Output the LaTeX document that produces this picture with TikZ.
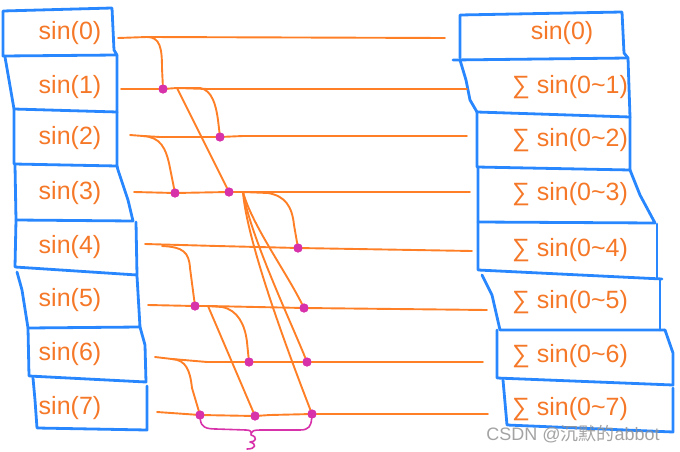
\documentclass[tikz,border=0pt]{standalone}
\usepackage{fontspec}
\setmainfont{Liberation Sans}
\newfontfamily\cjk{Noto Sans CJK SC}
\definecolor{ln}{RGB}{255,127,39}
\definecolor{tx}{RGB}{245,120,40}
\definecolor{bx}{RGB}{40,135,255}
\definecolor{mg}{RGB}{215,50,170}
\begin{document}
\begin{tikzpicture}[x=1pt,y=-1pt,line cap=round,line join=round,
  lbl/.style={text=tx,font=\fontsize{25}{29}\selectfont,inner sep=0pt},
  boxline/.style={draw=bx,line width=2.8pt},
  wire/.style={draw=ln,line width=1.9pt},
  dotm/.style={circle,fill=mg,draw=mg,line width=1pt,inner sep=0pt,minimum size=8pt},
  bracem/.style={draw=mg,line width=1.6pt}]
\useasboundingbox (0,0) rectangle (680,452);
% ---------- left boxes ----------
\draw[boxline] (3,11) -- (112,8) -- (114,50) -- (117,55) -- (3,56) -- cycle;
\draw[boxline] (5,57) -- (9,80) -- (14,109) -- (117,112) -- (117,55);
\draw[boxline] (14,109) -- (14,164) -- (117,166) -- (117,112);
\draw[boxline] (15,165) -- (16,220) -- (133,221) -- (128,200) -- (118,170) -- (117,166);
\draw[boxline] (16,220) -- (15,267) -- (137,275) -- (136,222);
\draw[boxline] (17,272) -- (22,290) -- (28,328) -- (140,327) -- (137,276);
\draw[boxline] (28,328) -- (29,376) -- (146,382) -- (145,345) -- (140,327);
\draw[boxline] (33,378) -- (35,400) -- (37,428) -- (147,430) -- (147,386);
% ---------- right boxes ----------
\draw[boxline] (628,58) -- (453,60);
\draw[boxline] (460,58) -- (460,15) -- (622,12) -- (624,53) -- (628,58);
\draw[boxline] (460,60) -- (466,80) -- (470,100) -- (477,112) -- (630,117) -- (628,58);
\draw[boxline] (477,112) -- (477,167) -- (630,170) -- (630,117);
\draw[boxline] (478,167) -- (478,222) -- (655,223) -- (640,195) -- (630,170);
\draw[boxline] (478,222) -- (478,270) -- (662,279);
\draw[boxline] (657,224) -- (657,278);
\draw[boxline] (482,275) -- (492,295) -- (500,330) -- (665,330);
\draw[boxline] (660,279) -- (660,330);
\draw[boxline] (497,330) -- (497,378) -- (673,385) -- (673,353) -- (665,330);
\draw[boxline] (503,380) -- (507,425) -- (673,432) -- (673,388);
% ---------- texts ----------
\node[lbl] (L0) at (70,33) {sin(0)};
\node[lbl] (L1) at (70,87) {sin(1)};
\node[lbl] (L2) at (70,138) {sin(2)};
\node[lbl] (L3) at (70,193) {sin(3)};
\node[lbl] (L4) at (70,247) {sin(4)};
\node[lbl] (L5) at (70,300) {sin(5)};
\node[lbl] (L6) at (70,354) {sin(6)};
\node[lbl] (L7) at (70,408) {sin(7)};
\node[lbl] (R0) at (562,33) {sin(0)};
\node[lbl] (R1) at (570,87) {∑ sin(0\textasciitilde1)};
\node[lbl] (R2) at (570,140) {∑ sin(0\textasciitilde2)};
\node[lbl] (R3) at (570,194) {∑ sin(0\textasciitilde3)};
\node[lbl] (R4) at (570,250) {∑ sin(0\textasciitilde4)};
\node[lbl] (R5) at (570,302) {∑ sin(0\textasciitilde5)};
\node[lbl] (R6) at (570,356) {∑ sin(0\textasciitilde6)};
\node[lbl] (R7) at (570,409) {∑ sin(0\textasciitilde7)};
% ---------- coordinates ----------
\coordinate (s0) at (118,38);  \coordinate (e0) at (445,38);
\coordinate (s1) at (121,89);  \coordinate (e1) at (467,89);
\coordinate (s2) at (130,135); \coordinate (e2) at (467,136);
\coordinate (s3) at (134,192); \coordinate (e3) at (470,192);
\coordinate (s4) at (145,244); \coordinate (e4) at (472,251);
\coordinate (s5) at (148,305); \coordinate (e5) at (487,310);
\coordinate (s6) at (155,357); \coordinate (e6) at (483,362);
\coordinate (s7) at (157,412); \coordinate (e7) at (488,414);
\coordinate (b0) at (147,37);
\coordinate (b1) at (177,88);
\coordinate (b2) at (143,136);
\coordinate (b3) at (243,192);
\coordinate (b4) at (162,246);
\coordinate (b5) at (208,306);
\coordinate (b6) at (172,359);
\node[dotm] (d1) at (163,89) {};
\node[dotm] (d2) at (220,137) {};
\node[dotm] (d3a) at (175,193) {};
\node[dotm] (d3b) at (229,192) {};
\node[dotm] (d4) at (298,248) {};
\node[dotm] (d5a) at (195,306) {};
\node[dotm] (d5b) at (304,308) {};
\node[dotm] (d6a) at (249,362) {};
\node[dotm] (d6b) at (307,362) {};
\node[dotm] (d7a) at (200,415) {};
\node[dotm] (d7b) at (255,416) {};
\node[dotm] (d7c) at (312,414) {};
% ---------- horizontal wires ----------
\draw[wire] (s0) -- (b0) -- (e0);
\draw[wire] (s1) -- (d1) -- (b1) -- (207,89) -- (e1);
\draw[wire] (s2) -- (b2) -- (160,137) -- (d2) -- (243,136) -- (e2);
\draw[wire] (s3) -- (d3a) -- (d3b) -- (b3) -- (e3);
\draw[wire] (s4) -- (217,246) -- (d4) -- (e4);
\draw[wire] (s5) -- (d5a) -- (b5) -- (d5b) -- (e5);
\draw[wire] (s6) -- (b6) -- (207,362) -- (d6a) -- (d6b) -- (e6);
\draw[wire] (s7) -- (d7a) -- (d7b) -- (270,415) -- (d7c) -- (e7);
% ---------- branches ----------
\draw[wire] (b0) .. controls (160,37) and (162,48) .. (162,68) -- (d1);
\draw[wire] (b1) -- (d3b);
\draw[wire] (b1) -- (200,88) .. controls (212,90) and (216,105) .. (218,120) -- (d2);
\draw[wire] (b2) .. controls (160,137) and (166,147) .. (170,168) -- (d3a);
\draw[wire] (b3) -- (268,193) .. controls (285,196) and (292,206) .. (294,225) -- (d4);
\draw[wire] (b3) .. controls (252,225) and (285,270) .. (d5b);
\draw[wire] (b3) .. controls (250,235) and (290,320) .. (d6b);
\draw[wire] (b3) .. controls (247,245) and (295,370) .. (d7c);
\draw[wire] (b4) .. controls (183,247) and (189,252) .. (190,268) -- (d5a);
\draw[wire] (b5) -- (d7b);
\draw[wire] (b5) -- (222,307) .. controls (238,310) and (245,325) .. (247,342) -- (d6a);
\draw[wire] (b6) .. controls (186,360) and (190,370) .. (192,388) -- (d7a);
% redraw dots on top
\foreach \d in {d1,d2,d3a,d3b,d4,d5a,d5b,d6a,d6b,d7a,d7b,d7c}
  \fill[mg] (\d) circle (4.5pt);
% ---------- brace ----------
\draw[bracem] (d7a) .. controls (201,427) and (206,429) .. (216,429) -- (246,430)
  .. controls (251,430) and (252,432) .. (251,435)
  .. controls (258,437) and (256,442) .. (250,442)
  .. controls (257,444) and (256,449) .. (247,449);
\draw[bracem] (251,433) .. controls (252,431) and (254,430) .. (260,430) -- (300,430)
  .. controls (309,430) and (311,426) .. (d7c);
% ---------- watermark ----------
\node[text=gray!85,opacity=0.85,font=\fontsize{18}{21}\selectfont,inner sep=0pt] (wm) at (573,434) {CSDN @{\cjk 沉默的}abbot};
\end{tikzpicture}
\end{document}
